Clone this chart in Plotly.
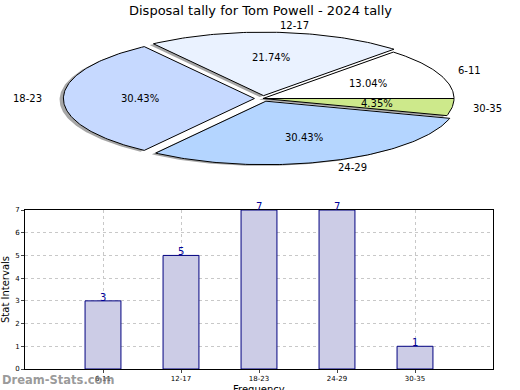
import math
import plotly.graph_objects as go

# ---- data ----
categories = ["6-11", "12-17", "18-23", "24-29", "30-35"]
counts = [3, 5, 7, 7, 1]
explode = [0.0, 0.045, 0.045, 0.045, 0.0]
pie_colors = ["#ffffff", "#eaf2ff", "#c6d9ff", "#b4d5ff", "#cde98b"]
title_text = "Disposal tally for Tom Powell - 2024 tally"
x_title = "Frequency"
y_title = "Stat Intervals"
y_ticks = [0, 1, 2, 3, 4, 5, 6, 7]

W, H = 520, 390
fig = go.Figure()

# ---- pie (elliptical, drawn as polygons from the values) ----
total = sum(counts)
wedges = []
start = 0.0
for cat, v, ex, col in zip(categories, counts, explode, pie_colors):
    span = 360.0 * v / total
    a0, a1 = start, start + span
    mid = math.radians((a0 + a1) / 2)
    cx, cy = ex * math.cos(mid), ex * math.sin(mid)
    n = max(8, int(span))
    xs, ys = [cx], [cy]
    for i in range(n + 1):
        a = math.radians(a0 + (a1 - a0) * i / n)
        xs.append(cx + math.cos(a))
        ys.append(cy + math.sin(a))
    xs.append(cx)
    ys.append(cy)
    wedges.append((cat, v, ex, col, xs, ys, mid, cx, cy))
    start = a1

# shadows first
for cat, v, ex, col, xs, ys, mid, cx, cy in wedges:
    fig.add_trace(go.Scatter(
        x=[x - 0.02 for x in xs], y=[y - 0.02 for y in ys],
        fill="toself", fillcolor="rgba(77,77,77,0.5)", mode="lines",
        line=dict(width=0), hoverinfo="skip", showlegend=False,
        xaxis="x2", yaxis="y2"))
for cat, v, ex, col, xs, ys, mid, cx, cy in wedges:
    fig.add_trace(go.Scatter(
        x=xs, y=ys, fill="toself", fillcolor=col, mode="lines",
        line=dict(color="black", width=1), hoverinfo="skip",
        showlegend=False, xaxis="x2", yaxis="y2"))

annotations = []
for cat, v, ex, col, xs, ys, mid, cx, cy in wedges:
    lx = cx + 1.1 * math.cos(mid)
    ly = cy + 1.1 * math.sin(mid)
    annotations.append(dict(
        x=lx, y=ly, xref="x2", yref="y2", text=cat, showarrow=False,
        xanchor="left" if lx > 0 else "right", yanchor="middle",
        font=dict(family="DejaVu Sans", size=10, color="black")))
    px = cx + 0.6 * math.cos(mid)
    py = cy + 0.6 * math.sin(mid)
    annotations.append(dict(
        x=px, y=py, xref="x2", yref="y2",
        text="%.2f%%" % (100.0 * v / total), showarrow=False,
        xanchor="center", yanchor="middle",
        font=dict(family="DejaVu Sans", size=10, color="black")))

# ---- bar chart ----
fig.add_trace(go.Bar(
    x=list(range(len(categories))), y=counts, width=0.46,
    marker=dict(color="#ccccE6", line=dict(color="#000080", width=1)),
    hoverinfo="skip", showlegend=False, xaxis="x", yaxis="y"))
for i, v in enumerate(counts):
    annotations.append(dict(
        x=i, y=v, xref="x", yref="y", text=str(v), showarrow=False,
        yanchor="bottom", yshift=-4,
        font=dict(family="DejaVu Sans", size=10, color="#000099")))

annotations.append(dict(
    x=260 / W, y=1 - 10 / H, xref="paper", yref="paper", text=title_text,
    showarrow=False, xanchor="center", yanchor="middle",
    font=dict(family="DejaVu Sans", size=13, color="black")))
annotations.append(dict(
    x=259 / W, y=1 - 382 / H, xref="paper", yref="paper", text=x_title,
    showarrow=False, xanchor="center", yanchor="top",
    font=dict(family="DejaVu Sans", size=10, color="black")))
annotations.append(dict(
    x=0, y=1 - 380 / H, xref="paper", yref="paper", text="<b>Dream-Stats.com</b>",
    showarrow=False, xanchor="left", yanchor="middle",
    font=dict(family="DejaVu Sans", size=11.5, color="rgba(128,128,128,0.8)")))

# pie axes mapping: px = 263 + 191*x, py = 98.5 - 63.5*y
pcx, pcy, rx, ry = 263.0, 98.5, 191.0, 63.5
top_px, bot_px = 18.0, 182.0
grid = "#c8c8c8"
fig.update_layout(
    width=W, height=H, margin=dict(l=0, r=0, t=0, b=0, autoexpand=False),
    paper_bgcolor="white", plot_bgcolor="white",
    annotations=annotations,
    xaxis2=dict(domain=[0, 1], range=[-pcx / rx, (W - pcx) / rx],
                visible=False, anchor="y2", automargin=False),
    yaxis2=dict(domain=[1 - bot_px / H, 1 - top_px / H],
                range=[(pcy - bot_px) / ry, (pcy - top_px) / ry],
                visible=False, anchor="x2", automargin=False),
    xaxis=dict(domain=[25 / W, 493 / W], range=[-1, 5], anchor="y",
               automargin=False,
               tickmode="array", tickvals=list(range(len(categories))),
               ticktext=categories, ticks="outside", ticklen=3,
               tickfont=dict(family="DejaVu Sans", size=7, color="black"),
               showgrid=True, gridcolor=grid, griddash="dot", gridwidth=1,
               showline=True, linecolor="black", linewidth=1, mirror=True,
               zeroline=False),
    yaxis=dict(domain=[1 - 369 / H, 1 - 210 / H], range=[0, 7], anchor="x",
               automargin=False,
               tickmode="array", tickvals=y_ticks, ticks="outside", ticklen=3,
               tickfont=dict(family="DejaVu Sans", size=7, color="black"),
               showgrid=True, gridcolor=grid, griddash="dot", gridwidth=1,
               showline=True, linecolor="black", linewidth=1, mirror=True,
               zeroline=False,
               title=dict(text=y_title, standoff=4,
                          font=dict(family="DejaVu Sans", size=10, color="black"))),
)

fig.write_html("out.html", config={"displayModeBar": False, "staticPlot": True},
               post_script="document.body.style.margin='0';document.body.style.overflow='hidden';")
